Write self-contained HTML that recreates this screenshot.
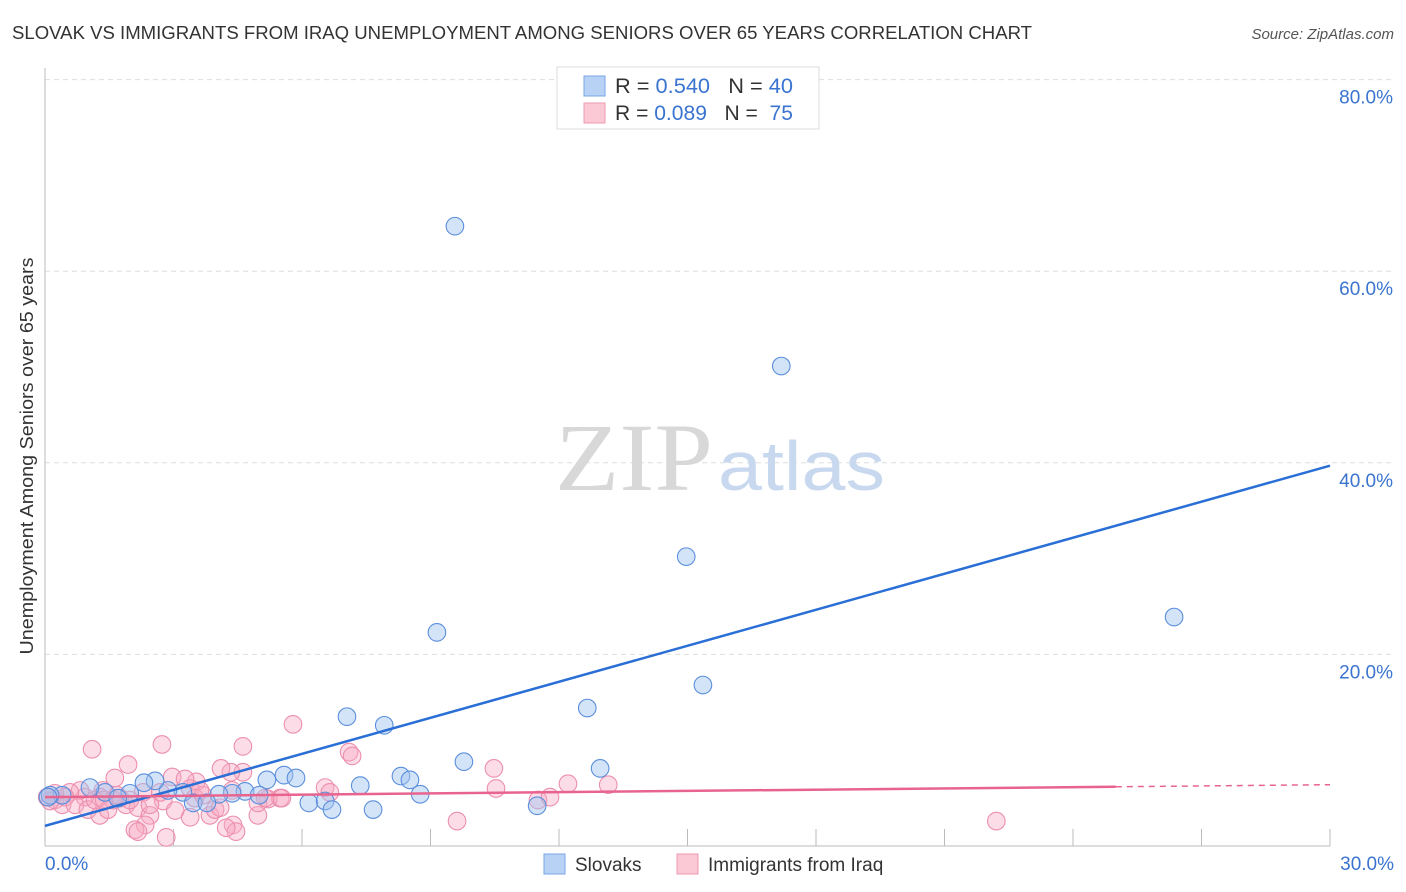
<!DOCTYPE html>
<html><head><meta charset="utf-8">
<style>
body{margin:0;background:#fff;font-family:"Liberation Sans",sans-serif;}
svg{display:block}
</style></head>
<body>
<svg id="chart" width="1406" height="892" xmlns="http://www.w3.org/2000/svg">
<text x="12" y="39" font-size="18" fill="#333" textLength="1020" lengthAdjust="spacingAndGlyphs">SLOVAK VS IMMIGRANTS FROM IRAQ UNEMPLOYMENT AMONG SENIORS OVER 65 YEARS CORRELATION CHART</text>
<text x="1394" y="39" font-size="15" fill="#555" font-style="italic" text-anchor="end">Source: ZipAtlas.com</text>
<text x="33" y="456" font-size="18" fill="#333" text-anchor="middle" textLength="397" lengthAdjust="spacingAndGlyphs" transform="rotate(-90 33 456)">Unemployment Among Seniors over 65 years</text>
<g id="grid"></g>
<g id="ticks"></g>
<text x="713" y="490" font-size="96" fill="#d8d8d8" text-anchor="end" font-family="Liberation Serif,serif" textLength="158" lengthAdjust="spacingAndGlyphs">ZIP</text>
<text x="718" y="490" font-size="70" fill="#c8d8ef" textLength="167" lengthAdjust="spacingAndGlyphs">atlas</text>
<g id="pts"></g>
<g id="lines"></g>
<g>
<rect x="557" y="67" width="262" height="62" fill="#fff" stroke="#ddd"/>
<rect x="584" y="76" width="21" height="20" fill="#b8d2f5" stroke="#7aa6e6"/>
<rect x="584" y="103" width="21" height="20" fill="#fbc8d6" stroke="#ee9ab3"/>
<text x="615" y="93" font-size="21" fill="#333" textLength="178" lengthAdjust="spacingAndGlyphs">R = <tspan fill="#3a74d0">0.540</tspan>&#160;&#160;&#160;N = <tspan fill="#3a74d0">40</tspan></text>
<text x="615" y="120" font-size="21" fill="#333" textLength="178" lengthAdjust="spacingAndGlyphs">R = <tspan fill="#3a74d0">0.089</tspan>&#160;&#160;&#160;N = &#160;<tspan fill="#3a74d0">75</tspan></text>
</g>
<g>
<rect x="544" y="854" width="21" height="20" fill="#b8d2f5" stroke="#7aa6e6"/>
<text x="575" y="871" font-size="19" fill="#333">Slovaks</text>
<rect x="677" y="854" width="21" height="20" fill="#fbc8d6" stroke="#ee9ab3"/>
<text x="708" y="871" font-size="19" fill="#333">Immigrants from Iraq</text>
</g>
</svg>
<script>
const yTicks=[20,40,60,80];
const yTickLabels=["20.0%","40.0%","60.0%","80.0%"];
const xTickLabels=["0.0%","30.0%"];
const blueX=[9.57,17.19,14.97,9.15,26.36,15.36,12.66,7.05,7.92,9.78,12.96,8.31,8.52,5.58,5.86,5.18,7.36,8.76,4.67,4.37,5.0,4.06,3.22,2.87,2.57,2.31,1.98,1.40,1.05,0.40,0.12,0.07,6.16,6.54,6.70,7.66,11.49,3.46,3.78,1.70];
const blueY=[64.7,50.1,30.2,22.3,23.9,16.8,14.4,13.5,12.6,8.8,8.1,7.3,6.9,7.4,7.1,6.9,6.3,5.4,5.7,5.5,5.3,5.4,5.6,5.8,6.8,6.6,5.5,5.6,6.1,5.3,5.3,5.1,4.5,4.7,3.8,3.8,4.2,4.5,4.5,5.0];
const pinkX=[1.10,2.73,4.62,5.79,7.10,7.17,10.48,10.53,11.51,11.79,12.21,13.15,9.62,22.21,6.54,6.65,5.49,5.21,4.62,4.34,4.11,3.53,3.39,2.97,2.76,2.69,2.29,1.94,1.63,1.35,1.28,0.93,0.82,0.58,0.47,0.23,0.23,0.40,0.70,1.00,1.28,1.47,1.89,2.17,2.45,2.34,2.10,2.17,2.83,3.04,3.39,3.50,3.85,3.97,4.09,4.39,4.46,4.23,4.97,4.97,5.14,5.53,3.69,3.27,4.37,1.75,1.17,1.59,0.05,0.12,1.98,1.68,1.38,3.62,2.45];
const pinkY=[10.1,10.6,10.4,12.7,9.8,9.4,8.1,6.0,4.8,5.1,6.5,6.4,2.6,2.6,6.1,5.6,5.0,4.9,7.7,7.7,8.1,6.7,6.0,7.2,4.7,5.6,5.6,8.5,7.1,5.8,5.1,5.1,5.8,5.6,5.1,4.8,5.5,4.3,4.3,3.8,3.2,3.8,4.3,4.0,3.2,2.2,1.7,1.5,0.9,3.7,3.0,5.0,3.2,3.8,4.0,2.2,1.5,1.9,3.2,4.5,5.0,5.0,5.3,7.0,5.8,5.0,4.8,4.8,5.1,4.7,4.8,5.3,4.8,5.8,4.3];
const trendX=[0,30];
const blueTrend=[2.1,39.7];
const pinkTrend=[5.1,6.4];
const pinkSolidEnd=25;

const NS="http://www.w3.org/2000/svg";
const X0=45,X1=1330,Y0=846,PPY=9.58;
const sx=v=>X0+(X1-X0)*v/30;
const sy=v=>Y0-v*PPY;
function mk(tag,attrs,parent){const e=document.createElementNS(NS,tag);for(const k in attrs)e.setAttribute(k,attrs[k]);parent.appendChild(e);return e;}
const grid=document.getElementById('grid'),ticks=document.getElementById('ticks'),pts=document.getElementById('pts'),lines=document.getElementById('lines');
yTicks.forEach((t,i)=>{
  const l=mk('line',{x1:X0,x2:1392,y1:sy(t),y2:sy(t),stroke:'#ddd','stroke-dasharray':'5,4'},grid);
  
  
  const tx=mk('text',{x:1393,y:sy(t)+24,'font-size':19,fill:'#3a74d0','text-anchor':'end'},ticks);
  tx.textContent=yTickLabels[i];
  
  
});
let a=mk('line',{x1:X0,x2:X0,y1:68,y2:Y0,stroke:'#bbb'},ticks);


a=mk('line',{x1:X0,x2:X1,y1:Y0,y2:Y0,stroke:'#bbb'},ticks);


for(let v=3;v<=30;v+=3){
  const t=mk('line',{x1:sx(v),x2:sx(v),y1:Y0-17,y2:Y0,stroke:'#bbb'},ticks);
  
  
}
[[0,'start',45],[30,'end',1394]].forEach((p,i)=>{
  const tx=mk('text',{x:p[2],y:870,'font-size':19,fill:'#3a74d0','text-anchor':p[1]},ticks);
  tx.textContent=xTickLabels[i];
  
  
});
pinkX.forEach((x,i)=>{
  const c=mk('circle',{cx:sx(x),cy:sy(pinkY[i]),r:8.8,fill:'rgba(248,170,195,0.4)',stroke:'#ec8fae','stroke-width':1.1},pts);
  
  
});
blueX.forEach((x,i)=>{
  const c=mk('circle',{cx:sx(x),cy:sy(blueY[i]),r:8.8,fill:'rgba(160,196,240,0.45)',stroke:'#5b8fdc','stroke-width':1.1},pts);
  
  
});
let l=mk('line',{x1:sx(trendX[0]),y1:sy(blueTrend[0]),x2:sx(trendX[1]),y2:sy(blueTrend[1]),stroke:'#2a6fd6','stroke-width':2.5},lines);


const pAt=x=>pinkTrend[0]+(pinkTrend[1]-pinkTrend[0])*(x-trendX[0])/(trendX[1]-trendX[0]);
l=mk('line',{x1:sx(trendX[0]),y1:sy(pAt(trendX[0])),x2:sx(pinkSolidEnd),y2:sy(pAt(pinkSolidEnd)),stroke:'#e8648e','stroke-width':2.5},lines);


l=mk('line',{x1:sx(pinkSolidEnd),y1:sy(pAt(pinkSolidEnd)),x2:sx(trendX[1]),y2:sy(pAt(trendX[1])),stroke:'#e8648e','stroke-width':1.5,'stroke-dasharray':'6,5'},lines);


</script>
</body></html>
